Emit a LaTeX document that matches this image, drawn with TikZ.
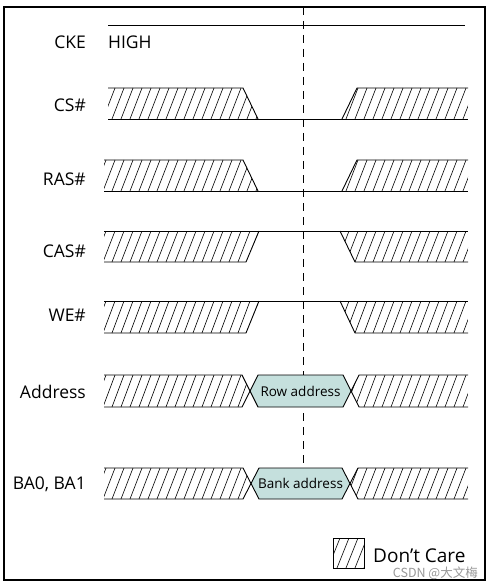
\documentclass[tikz,border=0pt]{standalone}
\usepackage{fontspec}
\setmainfont{Open Sans}
\newfontfamily\cjk{Noto Sans CJK SC}
\definecolor{hexfill}{RGB}{197,224,221}
\newcommand\hatchclip[3]{%
  \begin{scope}
    \clip #3;
    \foreach \hx in {40,49,...,480}{\draw[hatchln] (\hx,#2) -- (\hx+12,#1);}
  \end{scope}}
\begin{document}
\begin{tikzpicture}[x=1pt,y=-1pt,
  sig/.style={line width=0.9pt},
  hatchln/.style={line width=0.6pt},
  lbl/.style={font=\fontsize{17.5}{21}\selectfont, anchor=base east, inner sep=0pt},
  buslbl/.style={font=\fontsize{13.5}{16}\selectfont, anchor=base, inner sep=0pt},
  hexa/.style={fill=hexfill, draw, line width=0.8pt, line join=miter}]
\useasboundingbox (0,0) rectangle (493,588);
\fill[white] (0,0) rectangle (493,588);
\draw[line width=1.1pt] (4,7) rectangle (485,580);
% dashed reference line
\draw[sig, dash pattern=on 8pt off 6pt] (303,7) -- (303,468);
% CKE
\draw[sig] (108,25) -- (465,25);
% CS#
\hatchclip{88}{119}{(108,88) -- (243,88) -- (258,119) -- (108,119) -- cycle}
\hatchclip{88}{119}{(357,88) -- (468,88) -- (468,119) -- (342,119) -- cycle}
\draw[sig] (108,88) -- (243,88) -- (258,119);
\draw[sig] (108,119) -- (468,119);
\draw[sig] (342,119) -- (357,88) -- (468,88);
% RAS#
\hatchclip{160}{191}{(104,160) -- (243,160) -- (258,191) -- (104,191) -- cycle}
\hatchclip{160}{191}{(357,160) -- (468,160) -- (468,191) -- (342,191) -- cycle}
\draw[sig] (104,160) -- (243,160) -- (258,191);
\draw[sig] (104,191) -- (468,191);
\draw[sig] (342,191) -- (357,160) -- (468,160);
% CAS#
\hatchclip{231}{262}{(104,231) -- (259,231) -- (246,262) -- (104,262) -- cycle}
\hatchclip{231}{262}{(340,231) -- (468,231) -- (468,262) -- (355,262) -- cycle}
\draw[sig] (104,231) -- (468,231);
\draw[sig] (104,262) -- (246,262) -- (259,231);
\draw[sig] (340,231) -- (355,262) -- (468,262);
% WE#
\hatchclip{301}{333}{(104,301) -- (259,301) -- (246,333) -- (104,333) -- cycle}
\hatchclip{301}{333}{(340,301) -- (468,301) -- (468,333) -- (355,333) -- cycle}
\draw[sig] (104,301) -- (468,301);
\draw[sig] (104,333) -- (246,333) -- (259,301);
\draw[sig] (340,301) -- (355,333) -- (468,333);
% Address
\hatchclip{375}{407}{(104,375) -- (242,375) -- (250,391) -- (242,407) -- (104,407) -- cycle}
\hatchclip{375}{407}{(351,391) -- (359,375) -- (468,375) -- (468,407) -- (359,407) -- cycle}
\fill[hexfill] (250,391) -- (258,375) -- (343,375) -- (351,391) -- (343,407) -- (258,407) -- cycle;
\draw[sig] (104,375) -- (242,375) -- (258,407) -- (343,407) -- (359,375) -- (468,375);
\draw[sig] (104,407) -- (242,407) -- (258,375) -- (343,375) -- (359,407) -- (468,407);
% BA0, BA1
\hatchclip{468}{499}{(104,468) -- (243,468) -- (251,483.5) -- (243,499) -- (104,499) -- cycle}
\hatchclip{468}{499}{(350,483.5) -- (358,468) -- (468,468) -- (468,499) -- (358,499) -- cycle}
\fill[hexfill] (251,483.5) -- (259,468) -- (342,468) -- (350,483.5) -- (342,499) -- (259,499) -- cycle;
\draw[sig] (104,468) -- (243,468) -- (259,499) -- (342,499) -- (358,468) -- (468,468);
\draw[sig] (104,499) -- (243,499) -- (259,468) -- (342,468) -- (358,499) -- (468,499);
% legend
\hatchclip{538}{568}{(333,538) rectangle (364,568)}
\draw[sig] (333,538) rectangle (364,568);
% labels
\node[lbl] (cke) at (86,49) {CKE};
\node[lbl, anchor=base west] (high) at (108,49) {HIGH};
\node[lbl] (cs) at (86,112) {CS\#};
\node[lbl] (ras) at (86,185) {RAS\#};
\node[lbl] (cas) at (86,257) {CAS\#};
\node[lbl] (we) at (86,321) {WE\#};
\node[lbl] (addr) at (86,398) {Address};
\node[lbl] (ba) at (86,489) {BA0, BA1};
\node[buslbl] (row) at (300.5,396) {Row address};
\node[buslbl] (bank) at (300.5,488.5) {Bank address};
\node[font=\fontsize{19}{22}\selectfont, anchor=base west, inner sep=0pt] (dc) at (373,562) {Don’t Care};
\node[font=\cjk\fontsize{12.5}{15}\selectfont, text=black!40, anchor=base east, inner sep=0pt] (wm) at (478,577) {CSDN @大文梅};
\end{tikzpicture}
\end{document}
